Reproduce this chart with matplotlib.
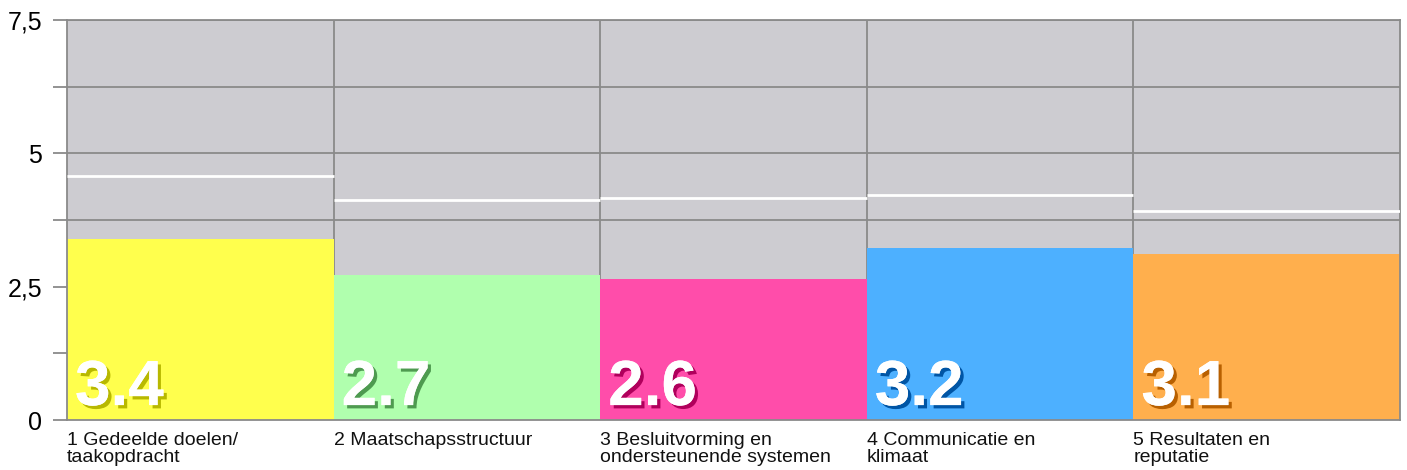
import matplotlib
matplotlib.use("Agg")
import matplotlib.pyplot as plt
import matplotlib.patheffects as pe
import numpy as np

categories = ["1 Gedeelde doelen/\ntaakopdracht", "2 Maatschapsstructuur",
              "3 Besluitvorming en\nondersteunende systemen", "4 Communicatie en\nklimaat",
              "5 Resultaten en\nreputatie"]
scores = [3.4, 2.7, 2.6, 3.2, 3.1]
bar_heights = [3.39, 2.72, 2.64, 3.22, 3.11]
reference = [4.57, 4.13, 4.16, 4.22, 3.92]
bar_colors = ["#FFFF4D", "#B0FFAE", "#FF4DAA", "#4DB0FF", "#FFAF4D"]
shadow_colors = ["#B8B800", "#4E9A50", "#B0005C", "#0055A5", "#B86000"]
ytick_labels = ["0", "", "2,5", "", "5", "", "7,5"]

plt.rcParams['font.family'] = ['Liberation Sans', 'DejaVu Sans']

fig = plt.figure(figsize=(14.07, 4.70), dpi=100)
ax = fig.add_axes([67/1407, 50/470, (1400-67)/1407, 400/470])
ax.set_facecolor("#CDCCD1")

x = np.arange(len(categories))
ax.set_xlim(-0.5, len(categories) - 0.5)
ax.set_ylim(0, 7.5)

grid = np.arange(0, 7.51, 1.25)
for g in grid:
    ax.axhline(g, color="#8A8A8A", lw=1.3, zorder=1)
for b in np.arange(0.5, len(categories) - 0.5, 1):
    ax.axvline(b, color="#8A8A8A", lw=1.3, zorder=1)

ax.bar(x, bar_heights, width=1.0, color=bar_colors, zorder=2, linewidth=0)
for i in range(len(categories)):
    ax.hlines(reference[i], i - 0.5, i + 0.5, color="white", lw=2, zorder=3)
    ax.text(i - 0.47, 0.28, f"{scores[i]:.1f}", fontsize=46, fontweight="bold",
            color="white", ha="left", va="baseline", zorder=4,
            path_effects=[pe.withSimplePatchShadow(offset=(2.4, -2.4), shadow_rgbFace=shadow_colors[i], alpha=1),
                          pe.Normal()])
    ax.text(i - 0.5, -0.22, categories[i], fontsize=14, color="#111111",
            ha="left", va="top", linespacing=1.05)

ax.set_yticks(grid)
ax.set_yticklabels(ytick_labels, fontsize=18)
ax.tick_params(axis="y", length=10, width=1.3, color="#8A8A8A", pad=8)
ax.set_xticks([])
for s in ax.spines.values():
    s.set_color("#8A8A8A")
    s.set_linewidth(1.3)

fig.savefig("out.png", dpi=100)
